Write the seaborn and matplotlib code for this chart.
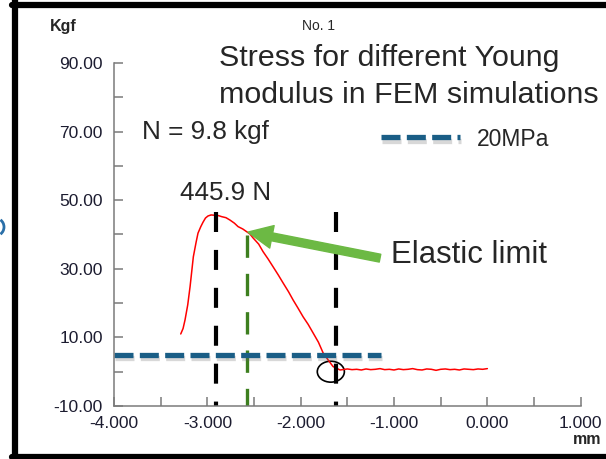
import matplotlib

matplotlib.use("Agg")

import pandas as pd
import seaborn as sns
import matplotlib.pyplot as plt
import matplotlib.patheffects as pe
from matplotlib.lines import Line2D
from matplotlib.patches import Ellipse, Arc


# displacement (mm) and force (kgf)
disp_mm = [-3.285, -3.26, -3.239, -3.21, -3.185, -3.15, -3.12, -3.10, -3.07,
           -3.046, -3.02, -2.993, -2.96, -2.917, -2.88, -2.846, -2.80, -2.757,
           -2.71, -2.671, -2.62, -2.578, -2.545, -2.51, -2.45, -2.403, -2.35,
           -2.296, -2.24, -2.189, -2.13, -2.081, -2.03, -1.974, -1.92, -1.867,
           -1.81, -1.76, -1.70, -1.653, -1.60, -1.578, -1.55, -1.50, -1.45,
           -1.40, -1.35, -1.30, -1.25, -1.20, -1.15, -1.10, -1.05, -1.00,
           -0.95, -0.90, -0.85, -0.80, -0.75, -0.70, -0.65, -0.60, -0.55,
           -0.50, -0.45, -0.40, -0.35, -0.30, -0.25, -0.20, -0.15, -0.10,
           -0.05, 0.0]
force_kgf = [11.0, 12.6, 15.1, 19.5, 24.8, 33.5, 37.8, 40.4, 42.3,
             43.6, 44.8, 45.4, 45.7, 45.6, 45.5, 45.2, 44.9, 44.2,
             43.3, 42.3, 41.6, 40.8, 40.2, 39.0, 37.2, 35.0, 32.9,
             30.6, 28.2, 25.9, 23.3, 20.9, 18.6, 16.0, 13.8, 11.3,
             8.6, 5.5, 3.2, 1.5, 0.8, 0.5, 0.6, 0.8, 0.6,
             0.7, 0.5, 0.8, 0.6, 0.7, 0.9, 0.6, 0.7, 0.5,
             0.8, 0.6, 0.7, 0.9, 0.6, 0.5, 0.8, 0.7, 0.4,
             0.7, 0.8, 0.6, 0.7, 0.5, 0.8, 0.7, 0.6, 0.8,
             0.7, 0.9]

peak_x = -2.91
zero_x = -1.62
black_top, black_bottom = 46.5, -10.0
elastic_x = -2.57
elastic_top, elastic_bottom = 39.9, -10.0
ref_20mpa = 4.9
ref_start, ref_end = -4.0, -1.14
circle_xy = (-1.677, 0.0)

x_ticks = [-4, -3, -2, -1, 0, 1]
x_labels = ["-4.000", "-3.000", "-2.000", "-1.000", "0.000", "1.000"]
x_minor = [-3.5, -2.5, -1.5, -0.5, 0.5]
y_ticks = [-10, 10, 30, 50, 70, 90]
y_labels = ["-10.00", "10.00", "30.00", "50.00", "70.00", "90.00"]
y_minor = [0, 20, 40, 60, 80]

W, H = 606, 459


def px(x, y):
    return x / W, 1 - y / H


sns.set_style("white")
plt.rcParams["font.family"] = ["Liberation Sans", "DejaVu Sans"]

fig = plt.figure(figsize=(W / 100, H / 100), dpi=100)
ax = fig.add_axes([114 / W, 1 - 406 / H, (580.7 - 114) / W, (406 - 63) / H])

df = pd.DataFrame({"mm": disp_mm, "kgf": force_kgf})
sns.lineplot(data=df, x="mm", y="kgf", color="#ff0000", lw=1.1, sort=False, ax=ax)

for xv in (peak_x, zero_x):
    ax.plot([xv, xv], [black_top, black_bottom], color="black", lw=3,
            linestyle=(0, (4.8, 4.3)), solid_capstyle="butt")

ax.plot([elastic_x, elastic_x], [elastic_top, elastic_bottom], color="#3d7f1f",
        lw=2.4, linestyle=(0, (6.7, 4.8)))

shadow = [pe.SimpleLineShadow(offset=(1, -2.5), shadow_color="#666666", alpha=0.25),
          pe.Normal()]
blue, = ax.plot([ref_start, ref_end], [ref_20mpa, ref_20mpa], color="#1a5e86",
                lw=3.8, linestyle=(0, (3.6, 1.2)), path_effects=shadow, label="20MPa")

ax.add_patch(Ellipse(circle_xy, width=0.29, height=6.1, fill=False,
                     edgecolor="black", lw=1.2))

ax.annotate("", xy=(-2.565, 40.7), xytext=(-1.15, 33.1),
            arrowprops=dict(arrowstyle="simple,head_length=0.8,head_width=0.75,tail_width=0.26",
                            color="#6cb944", mutation_scale=22, shrinkA=0, shrinkB=0))

ax.set_xlim(-4, 1)
ax.set_ylim(-10, 90)
ax.set_xticks(x_ticks)
ax.set_xticklabels(x_labels)
ax.set_xticks(x_minor, minor=True)
ax.set_yticks(y_ticks)
ax.set_yticklabels(y_labels)
ax.set_yticks(y_minor, minor=True)
ax.set_xlabel("")
ax.set_ylabel("")

for side in ("top", "right"):
    ax.spines[side].set_visible(False)
for side in ("left", "bottom"):
    ax.spines[side].set_color("#7a7a7a")
    ax.spines[side].set_linewidth(1.1)

ax.tick_params(which="both", direction="in", length=6.5, width=1.1, color="#7a7a7a",
               bottom=True, left=True, top=False, right=False)
ax.tick_params(axis="y", which="major", labelsize=12.5, pad=8, labelcolor="#1c1c30")
ax.tick_params(axis="x", which="major", labelsize=12.5, pad=7, labelcolor="#1c1c30")

ax.legend(handles=[blue], loc="center left", bbox_to_anchor=px(381, 139),
          bbox_transform=fig.transFigure, frameon=False, fontsize=16.5,
          handlelength=3.45, handletextpad=0.72, borderpad=0, borderaxespad=0)

fig.text(*px(50, 27), "Kgf", fontsize=11.5, fontweight="bold", va="center")
fig.text(*px(318, 26), "No. 1", fontsize=10, va="center", ha="center")
fig.text(*px(601, 440), "mm", fontsize=11.5, fontweight="bold", va="center", ha="right")
fig.text(*px(219, 66.5), "Stress for different Young", fontsize=21.9, va="baseline")
fig.text(*px(219, 103), "modulus in FEM simulations", fontsize=21.9, va="baseline")
fig.text(*px(142, 139), "N = 9.8 kgf", fontsize=18.8, va="baseline")
fig.text(*px(180, 200), "445.9 N", fontsize=18.7, va="baseline")
fig.text(*px(391, 263), "Elastic limit", fontsize=22.4, va="baseline")

# screenshot frame
for (x0, y0, x1, y1) in [(15, 0, 15, H), (12, 5, W, 5), (12, 457, W, 457)]:
    fig.add_artist(Line2D([x0 / W, x1 / W], [1 - y0 / H, 1 - y1 / H],
                          color="black", lw=4.5, transform=fig.transFigure))
fig.add_artist(Arc(px(-5, 227), 18 / W, 18 / H, theta1=-60, theta2=60,
                   color="#2a6fa8", lw=2, transform=fig.transFigure))

fig.savefig("out.png", dpi=100)
